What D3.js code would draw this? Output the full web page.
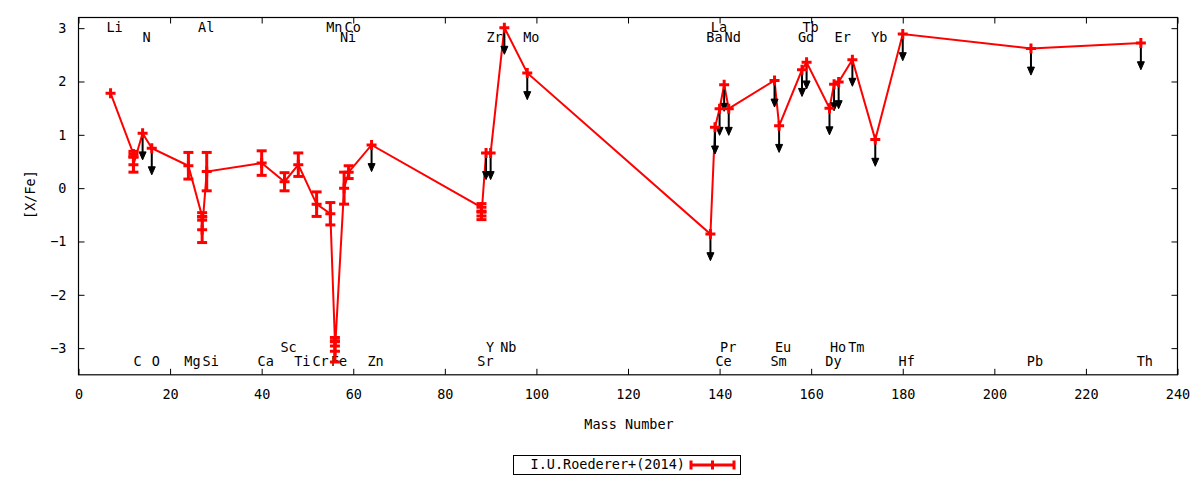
<!DOCTYPE html>
<html>
<head>
<meta charset="utf-8">
<script src="https://cdn.jsdelivr.net/npm/d3@7"></script>
<style>
body { margin: 0; background: #fff; }
text { font-family: "DejaVu Sans Mono", monospace; font-size: 13.5px; fill: #000; }
</style>
</head>
<body>
<div id="chart"></div>
<script>
// abundance pattern, in file order (the line joins them in this order)
const elements = ["Li","C","C","N","O","Mg","Al","Al","Si","Ca","Sc","Ti","Cr","Mn","Fe","Fe","Ni","Co","Zn",
                  "Sr","Sr","Y","Zr","Nb","Mo","Ba","La","Ce","Pr","Nd","Sm","Eu","Gd","Tb","Dy","Ho","Er","Tm",
                  "Yb","Hf","Pb","Th"];
const masses = [7,12,12,14,16,24,27,27,28,40,45,48,52,55,56,56,58,59,64,
                88,88,89,90,93,98,138,139,140,141,142,152,153,158,159,164,165,166,169,
                174,180,208,232];
const values = [1.78,0.64,0.44,1.03,0.75,0.42,-0.53,-0.78,0.31,0.47,0.12,0.44,-0.30,-0.48,-2.88,-3.06,0.00,0.30,0.81,
                -0.36,-0.52,0.66,0.66,3.01,2.16,-0.86,1.14,1.49,1.94,1.49,2.02,1.17,2.22,2.36,1.50,1.95,1.99,2.41,
                0.91,2.89,2.62,2.72];
const errors = [0,0.05,0.14,0,0,0.25,0.07,0.24,0.36,0.23,0.17,0.22,0.23,0.21,0.08,0.20,0.30,0.12,0,
                0.07,0.07,0,0,0,0,0,0,0,0,0,0,0,0,0,0,0,0,0,
                0,0,0,0];
const upperLimit = [0,0,0,1,1,0,0,0,0,0,0,0,0,0,0,0,0,0,1,
                    0,0,1,1,1,1,1,1,1,1,1,1,1,1,1,1,1,1,1,
                    1,1,1,1];

// element names written along the top and bottom of the frame
const labelNames  = ["Li","Al","Mn","Co","La","Tb",
                     "N","Ni","Zr","Mo","Ba","Nd","Gd","Er","Yb",
                     "Sc","Y","Nb","Pr","Eu","Ho","Tm",
                     "C","O","Mg","Si","Ca","Ti","Cr","Fe","Zn","Sr","Ce","Sm","Dy","Hf","Pb","Th"];
const labelMasses = [7,27,55,59,139,159,
                     14,58,90,98,138,142,158,166,174,
                     45,89,93,141,153,165,169,
                     12,16,24,28,40,48,52,56,64,88,140,152,164,180,208,232];
const labelRows   = ["top1","top1","top1","top1","top1","top1",
                     "top2","top2","top2","top2","top2","top2","top2","top2","top2",
                     "bot1","bot1","bot1","bot1","bot1","bot1","bot1",
                     "bot2","bot2","bot2","bot2","bot2","bot2","bot2","bot2","bot2","bot2","bot2","bot2","bot2","bot2","bot2","bot2"];

const xTickValues = [0,20,40,60,80,100,120,140,160,180,200,220,240];
const yTickValues = [-3,-2,-1,0,1,2,3];
const legendLabel = "I.U.Roederer+(2014)";
const limitLength = 0.5;

const width = 1200, height = 480;
const plotLeft = 78.5, plotRight = 1177.5, plotTop = 17.5, plotBottom = 374.8;

const svg = d3.select("#chart").append("svg")
    .attr("width", width)
    .attr("height", height);

const x = d3.scaleLinear().domain([0, 240]).range([plotLeft, plotRight]);
const y = d3.scaleLinear().domain([-3.5, 3.2]).range([plotBottom, plotTop]);

const data = elements.map((e, i) => ({
    name: e, mass: masses[i], value: values[i], err: errors[i], limit: upperLimit[i] === 1
}));

// axes, ticks pointing inwards on all four sides
svg.append("g")
    .attr("transform", "translate(0," + plotBottom + ")")
    .call(d3.axisBottom(x).tickValues(xTickValues).tickSize(-6).tickPadding(15))
    .call(g => g.select(".domain").remove());
svg.append("g")
    .attr("transform", "translate(0," + plotTop + ")")
    .call(d3.axisTop(x).tickValues(xTickValues).tickSize(-6).tickFormat(""))
    .call(g => g.select(".domain").remove());
svg.append("g")
    .attr("transform", "translate(" + plotLeft + ",0)")
    .call(d3.axisLeft(y).tickValues(yTickValues).tickSize(-6).tickPadding(12).tickFormat(d3.format("d")))
    .call(g => g.select(".domain").remove());
svg.append("g")
    .attr("transform", "translate(" + plotRight + ",0)")
    .call(d3.axisRight(y).tickValues(yTickValues).tickSize(-6).tickFormat(""))
    .call(g => g.select(".domain").remove());

svg.selectAll(".tick line").attr("stroke", "#000").attr("stroke-width", 1);
svg.selectAll(".tick text").style("font-family", "'DejaVu Sans Mono', monospace").style("font-size", "13.5px");

svg.append("rect")
    .attr("x", plotLeft).attr("y", plotTop)
    .attr("width", plotRight - plotLeft).attr("height", plotBottom - plotTop)
    .attr("fill", "none").attr("stroke", "#000").attr("stroke-width", 1.2);

// axis titles
svg.append("text")
    .attr("x", (plotLeft + plotRight) / 2 + 1).attr("y", 425)
    .attr("text-anchor", "middle").attr("dominant-baseline", "middle")
    .text("Mass Number");
svg.append("text")
    .attr("transform", "translate(31," + y(-0.12) + ") rotate(-90)")
    .attr("text-anchor", "middle").attr("dominant-baseline", "middle")
    .text("[X/Fe]");

// element labels
const rowY = { top1: 3.0, top2: 2.82, bot1: -3.0, bot2: -3.26 };
svg.append("g").selectAll("text")
    .data(labelNames)
    .enter().append("text")
    .attr("x", (d, i) => x(labelMasses[i]) + 4)
    .attr("y", (d, i) => y(rowY[labelRows[i]]))
    .attr("text-anchor", "middle")
    .attr("dominant-baseline", "middle")
    .text(d => d);

const red = "#ff0000";

// connecting line
const line = d3.line().x(d => x(d.mass)).y(d => y(d.value));
svg.append("path")
    .datum(data)
    .attr("fill", "none")
    .attr("stroke", red)
    .attr("stroke-width", 2)
    .attr("d", line);

// error bars
const bars = svg.append("g").selectAll("g")
    .data(data.filter(d => d.err > 0))
    .enter().append("g")
    .attr("stroke", red).attr("stroke-width", 3);
bars.append("line")
    .attr("x1", d => x(d.mass)).attr("x2", d => x(d.mass))
    .attr("y1", d => y(d.value + d.err)).attr("y2", d => y(d.value - d.err));
bars.append("line")
    .attr("x1", d => x(d.mass) - 5).attr("x2", d => x(d.mass) + 5)
    .attr("y1", d => y(d.value + d.err)).attr("y2", d => y(d.value + d.err));
bars.append("line")
    .attr("x1", d => x(d.mass) - 5).attr("x2", d => x(d.mass) + 5)
    .attr("y1", d => y(d.value - d.err)).attr("y2", d => y(d.value - d.err));

// upper limits
const arrows = svg.append("g").selectAll("g")
    .data(data.filter(d => d.limit))
    .enter().append("g");
arrows.append("line")
    .attr("x1", d => x(d.mass)).attr("x2", d => x(d.mass))
    .attr("y1", d => y(d.value)).attr("y2", d => y(d.value - limitLength) - 6)
    .attr("stroke", "#000").attr("stroke-width", 2);
arrows.append("path")
    .attr("d", d => {
        const cx = x(d.mass), ty = y(d.value - limitLength);
        return "M" + (cx - 3.5) + "," + (ty - 8) + "L" + (cx + 3.5) + "," + (ty - 8) + "L" + cx + "," + ty + "Z";
    })
    .attr("fill", "#000").attr("stroke", "#000").attr("stroke-width", 1);

// plus markers
svg.append("g").selectAll("path")
    .data(data)
    .enter().append("path")
    .attr("d", d => {
        const cx = x(d.mass), cy = y(d.value);
        return "M" + (cx - 5) + "," + cy + "H" + (cx + 5) + "M" + cx + "," + (cy - 5) + "V" + (cy + 5);
    })
    .attr("stroke", red).attr("stroke-width", 3).attr("fill", "none");

// legend
const legend = svg.append("g");
legend.append("rect")
    .attr("x", 513.5).attr("y", 455.5).attr("width", 227).attr("height", 19)
    .attr("fill", "#fff").attr("stroke", "#000").attr("stroke-width", 1);
legend.append("text")
    .attr("x", 685).attr("y", 465)
    .attr("text-anchor", "end").attr("dominant-baseline", "middle")
    .text(legendLabel);
legend.append("path")
    .attr("d", "M691,465H734M691,460.5V469.5M734,460.5V469.5M712.5,460.5V469.5")
    .attr("stroke", red).attr("stroke-width", 3).attr("fill", "none");
</script>
</body>
</html>
